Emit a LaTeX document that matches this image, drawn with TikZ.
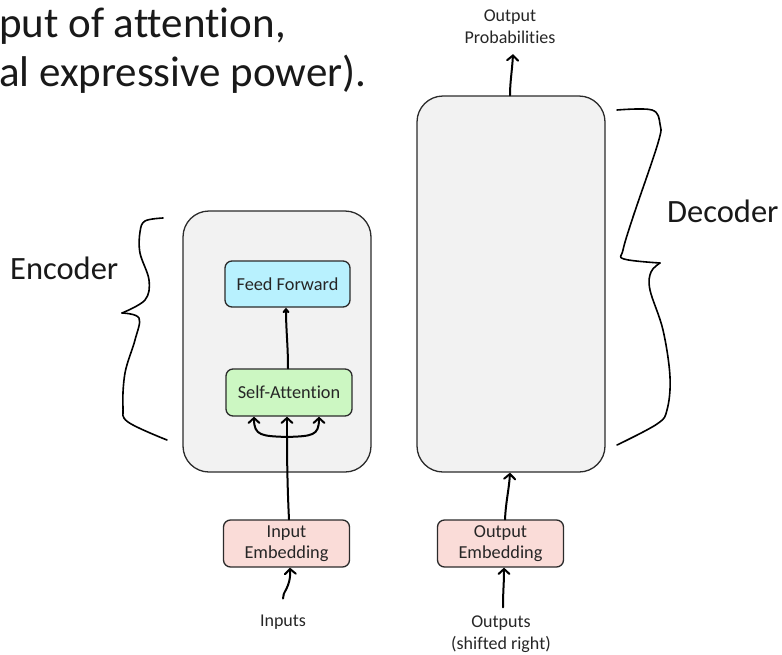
\documentclass[tikz,border=0pt]{standalone}
\usepackage{fontspec}
\setmainfont[Ligatures=NoCommon]{Carlito}
\usetikzlibrary{arrows.meta}
\definecolor{panelfill}{HTML}{F2F2F2}
\definecolor{ffcol}{HTML}{B8F1FE}
\definecolor{sacol}{HTML}{CCF7C2}
\definecolor{embcol}{HTML}{FADCD8}
\definecolor{edge}{HTML}{2B2B2B}
\begin{document}
\begin{tikzpicture}[x=1pt,y=-1pt,
  panel/.style={draw=edge, line width=1.3pt, fill=panelfill, rounded corners=26pt, inner sep=0pt},
  block/.style={draw=edge, line width=1.3pt, rounded corners=7pt, inner sep=0pt,
    minimum width=126pt, minimum height=47pt, align=center,
    font=\fontsize{18.3}{21}\selectfont, text=black!85},
  caption/.style={align=center, inner sep=0pt, font=\fontsize{18}{22}\selectfont, text=black!85},
  bigword/.style={anchor=west, inner sep=0pt, font=\fontsize{32.5}{38}\selectfont, text=black!90},
  headline/.style={anchor=base west, inner sep=0pt, font=\fontsize{43}{48}\selectfont, text=black!90},
  flow/.style={line width=2pt, line cap=round, -{Straight Barb[length=5pt,width=11pt,line cap=round]}},
  brace/.style={line width=1.6pt, line cap=round, line join=round}]
\useasboundingbox (0,0) rectangle (782,654);
\clip (0,0) rectangle (782,654);

% heading text running in from the left edge
\node[headline] (line1) at (-1,37) {put of attention,};
\node[headline] (line2) at (-1,86) {al expressive power).};

% encoder and decoder panels
\node[panel, minimum width=188pt, minimum height=261pt] (enc) at (277,341.5) {};
\node[panel, minimum width=188pt, minimum height=376pt] (dec) at (511,284) {};

% encoder sub-layers
\node[block, fill=ffcol, minimum width=125pt, minimum height=46pt] (ff) at (287.5,284) {Feed Forward};
\node[block, fill=sacol] (sa) at (289,392.5) {Self-Attention};

% embeddings
\node[block, fill=embcol] (ie) at (286.5,543.5) {Input\\Embedding};
\node[block, fill=embcol] (oe) at (500.5,543.5) {Output\\Embedding};

% captions
\node[caption] (inputs) at (283,622) {Inputs};
\node[caption] (outputs) at (501,634) {Outputs\\(shifted right)};
\node[caption] (probs) at (510,27) {Output\\Probabilities};
\node[bigword] (enclabel) at (10,268) {Encoder};
\node[bigword] (declabel) at (667,211) {Decoder};

% input side
\draw[flow] (inputs.north) ++(0,-16) .. controls (282,592) and (291,588) .. (ie.south -| 290,0);
\coordinate (branch) at (287,437);
\draw[line width=2pt, line cap=round] (ie.north -| 289,0) .. controls (288,500) and (287,470) .. (branch);
\draw[flow] (branch) -- (sa.south -| 287,0);
\draw[flow] (branch) .. controls (262,436) and (254,436) .. (sa.south -| 254,0);
\draw[flow] (branch) .. controls (312,436) and (319,436) .. (sa.south -| 319,0);
\draw[line width=2pt, line cap=round, -{Straight Barb[length=3pt,width=5pt,line cap=round]}]
  (sa.north -| 288,0) .. controls (288,345) and (286,330) .. (ff.south -| 286,0);

% output side
\draw[flow] (outputs.north) ++(2,-8) .. controls (503,590) and (504,585) .. (oe.south -| 504,0);
\draw[flow] (oe.north -| 505,0) .. controls (506,500) and (509,490) .. (dec.south -| 510,0);
\draw[flow] (dec.north -| 510,0) .. controls (510,82) and (512,72) .. ([yshift=-10pt]probs.south -| 513,0);

% hand-drawn braces
\draw[brace] plot[smooth, tension=0.6] coordinates
  {(163,218) (145,221) (140,232) (140,253) (149,280) (145,300) (122,313)};
\draw[brace] plot[smooth, tension=0.6] coordinates
  {(122,313) (139,318) (135,340) (125,373) (123,407) (128,422) (167,440)};
\draw[brace] plot[smooth, tension=0.6] coordinates
  {(617,110) (652,110) (660,124) (658,143) (633,217) (623,250) (624,259) (660,263)};
\draw[brace] plot[smooth, tension=0.6] coordinates
  {(660,263) (651,272) (650,290) (663,330) (670,377) (667,410) (657,424) (617,445)};
\end{tikzpicture}
\end{document}
